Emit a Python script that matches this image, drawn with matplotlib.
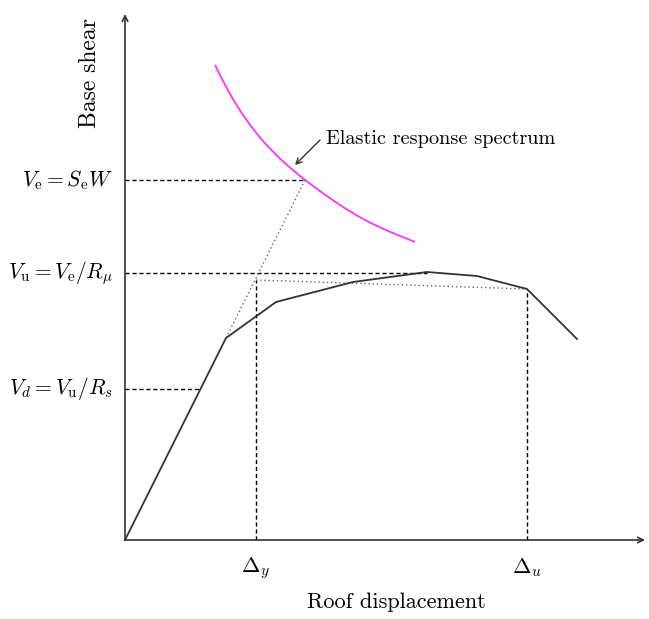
import matplotlib
matplotlib.use("Agg")
import matplotlib.pyplot as plt
from matplotlib.path import Path
from matplotlib.patches import PathPatch

plt.rcParams['font.family'] = ['cmr10', 'DejaVu Serif']
plt.rcParams['mathtext.fontset'] = 'cm'
plt.rcParams['axes.unicode_minus'] = False

# Pushover (capacity) curve
disp = [0, 101, 151, 228, 302, 352, 402, 452]
shear = [0, 202, 238, 258, 268, 264, 251, 201]

# Elastic response spectrum (demand curve)
spec_x = [90, 100, 113, 130, 147, 165, 180, 203, 227, 253, 290]
spec_y = [475, 455, 432, 408, 389, 372, 360, 343, 327, 313, 298]

# Key levels
V_e = 360
V_u = 267
V_d = 151
delta_y = 131
delta_u = 402
bilin_y = [260, 251]
k_el = 2.0
peak_x = 302

level_labels = [r"$V_\mathrm{e} = S_\mathrm{e}W$", r"$V_\mathrm{u} = V_\mathrm{e}/R_\mu$",
                r"$V_d = V_\mathrm{u}/R_s$"]
disp_labels = [r"$\Delta_y$", r"$\Delta_u$"]

fig = plt.figure(figsize=(6.49, 6.19), dpi=100)
ax = fig.add_axes([0, 0, 1, 1])
ax.set_xlim(-125, 524)
ax.set_ylim(-79, 540)
ax.axis('off')

axc = '#333333'
# axes arrows
ax.annotate('', xy=(520, 0), xytext=(0, 0),
            arrowprops=dict(arrowstyle='->', color=axc, lw=1.2, shrinkA=0, shrinkB=0))
ax.annotate('', xy=(0, 526), xytext=(0, 0),
            arrowprops=dict(arrowstyle='->', color=axc, lw=1.2, shrinkA=0, shrinkB=0))

dash = dict(color='black', lw=1.0, dashes=(3, 2))
dot = dict(color='#666666', lw=1.0, dashes=(1, 2))

# horizontal level lines
ax.plot([0, V_e / k_el], [V_e, V_e], **dash)
ax.plot([0, peak_x], [V_u, V_u], **dash)
ax.plot([0, V_d / k_el], [V_d, V_d], **dash)
# vertical lines
ax.plot([delta_y, delta_y], [0, bilin_y[0]], **dash)
ax.plot([delta_u, delta_u], [0, bilin_y[1]], **dash)

# elastic extension and bilinear idealisation
ax.plot([disp[1], V_e / k_el], [shear[1], V_e], **dot)
ax.plot([delta_y, delta_u], bilin_y, **dot)

# pushover curve
ax.plot(disp, shear, color=axc, lw=1.3)

# spectrum: smooth quadratic Bezier path through the read points
pts = list(zip(spec_x, spec_y))
verts = [pts[0]]
codes = [Path.MOVETO]
mids = [((pts[i][0] + pts[i + 1][0]) / 2, (pts[i][1] + pts[i + 1][1]) / 2)
        for i in range(len(pts) - 1)]
verts.append(mids[0]); codes.append(Path.LINETO)
for i in range(1, len(pts) - 1):
    verts += [pts[i], mids[i]]
    codes += [Path.CURVE3, Path.CURVE3]
verts.append(pts[-1]); codes.append(Path.LINETO)
ax.add_patch(PathPatch(Path(verts, codes), fill=False, edgecolor='#ff33ff', lw=1.3))

ax.annotate('', xy=(170, 375), xytext=(195, 400),
            arrowprops=dict(arrowstyle='->', color=axc, lw=1.0, shrinkA=0, shrinkB=0))
ax.text(201, 401, "Elastic response spectrum", fontsize=14.6, ha='left', va='center')

for lab, v in zip(level_labels, [V_e, V_u, V_d]):
    ax.text(-12, v, lab, fontsize=15.5, ha='right', va='center')

for lab, d in zip(disp_labels, [delta_y, delta_u]):
    ax.text(d, -28, lab, fontsize=16, ha='center', va='center')

ax.text(271, -62, "Roof displacement", fontsize=16, ha='center', va='center')
ax.text(-35, 467, "Base shear", fontsize=17, ha='center', va='center', rotation=90)

fig.savefig('out.png', dpi=100)
